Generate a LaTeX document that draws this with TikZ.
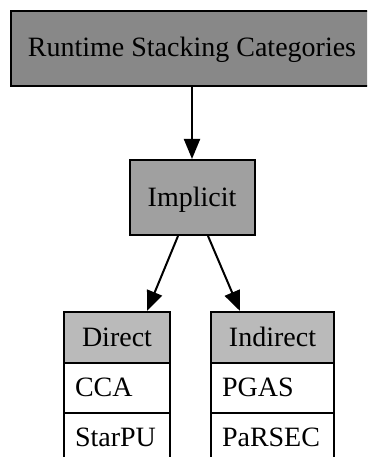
\documentclass[tikz,border=0pt]{standalone}
\usepackage{fontspec}
\setmainfont{Liberation Serif}
\usetikzlibrary{arrows.meta,calc}
\definecolor{topgray}{HTML}{888888}
\definecolor{midgray}{HTML}{A0A0A0}
\definecolor{headgray}{HTML}{BABABA}
\tikzset{
  box/.style={draw=black, line width=2pt, rectangle, inner sep=0pt,
    font=\rmfamily\fontsize{28}{34}\selectfont, text height=22pt, text depth=5pt},
  cell/.style={box, fill=white, inner xsep=11pt, align=left, minimum height=50pt},
  conn/.style={line width=2pt, -{Triangle[length=20pt,width=16pt]}}
}
\begin{document}
\begin{tikzpicture}[x=1pt,y=1pt]
\useasboundingbox (0,0) rectangle (367,-457);
\clip (0,0) rectangle (367,-457);
\node[box, fill=topgray, minimum width=362pt, minimum height=75pt] (top) at (192,-48.5) {Runtime Stacking Categories};
\node[box, fill=midgray, minimum width=125pt, minimum height=75pt] (imp) at (192,-197.5) {Implicit};
% Direct record
\node[box, fill=headgray, minimum width=106pt, minimum height=51pt] (dhead) at (117,-337.5) {Direct};
\node[cell, text width=84pt] (dcca) at (117,-388) {CCA};
\node[cell, text width=84pt] (dstar) at (117,-438) {StarPU};
% Indirect record
\node[box, fill=headgray, minimum width=123pt, minimum height=51pt] (ihead) at (272.5,-337.5) {Indirect};
\node[cell, text width=101pt] (ipgas) at (272.5,-388) {PGAS};
\node[cell, text width=101pt] (iparsec) at (272.5,-438) {PaRSEC};
% connectors
\draw[conn] (top.south) -- (imp.north);
\draw[conn] ($(imp.south)+(-14,0)$) -- ($(dhead.north)+(30,0)$);
\draw[conn] ($(imp.south)+(16,0)$) -- ($(ihead.north)+(-32.5,0)$);
\end{tikzpicture}
\end{document}
